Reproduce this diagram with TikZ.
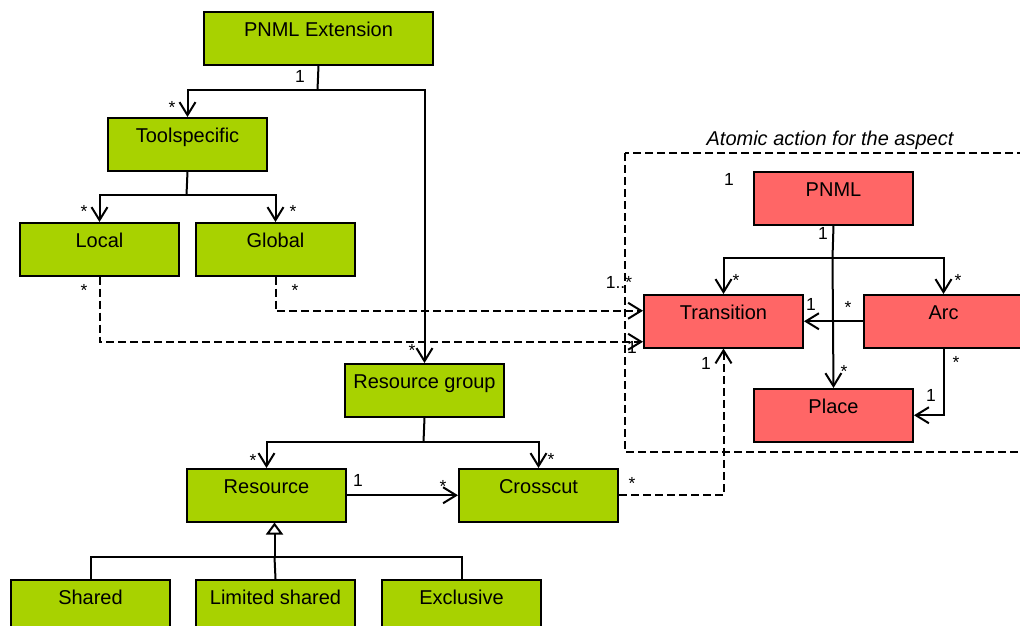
\documentclass[tikz,border=0pt]{standalone}
\usepackage{fontspec}
\setmainfont{Liberation Sans}
\usetikzlibrary{arrows.meta}
\definecolor{umlgreen}{RGB}{168,210,0}
\definecolor{umlred}{RGB}{255,102,102}
\begin{document}
\begin{tikzpicture}[x=1pt,y=-1pt,
  cls/.style={draw=black, line width=2pt, inner sep=0pt, anchor=north west,
    minimum width=159pt, minimum height=52.5pt,
    text height=24.5pt, text depth=28pt,
    font=\fontsize{20}{23}\selectfont},
  gcls/.style={cls, fill=umlgreen},
  rcls/.style={cls, fill=umlred},
  conn/.style={draw=black, line width=2pt},
  arr/.style={conn, -{Straight Barb[length=13pt,width=16pt,line width=2pt]}},
  dsh/.style={dash pattern=on 8pt off 4pt},
  gen/.style={conn, -{Triangle[open,length=12pt,width=17pt,line width=2pt,fill=white]}},
  lab/.style={font=\fontsize{17.5}{20}\selectfont, inner sep=0pt, anchor=base},
]
\useasboundingbox (0,0) rectangle (1020,625);
\clip (0,0) rectangle (1020,625);

% aspect frame and its title
\draw[line width=2pt, dsh] (625,153) rectangle (1060,452);
\node[anchor=base, inner sep=0pt, font=\fontsize{20}{23}\selectfont\itshape] (title) at (830,145) {Atomic action for the aspect};

% classes
\node[gcls, minimum width=229pt] (ext) at (203,11) {PNML Extension};
\node[gcls] (tool) at (107,117) {Toolspecific};
\node[gcls] (local) at (19,222) {Local};
\node[gcls] (global) at (195,222) {Global};
\node[gcls] (rgroup) at (344,363) {Resource group};
\node[gcls] (resource) at (186,468) {Resource};
\node[gcls] (crosscut) at (458,468) {Crosscut};
\node[gcls] (shared) at (10,579) {Shared};
\node[gcls] (limited) at (195,579) {Limited shared};
\node[gcls] (exclusive) at (381,579) {Exclusive};
\node[rcls] (pnml) at (753,171) {PNML};
\node[rcls] (transition) at (643,294) {Transition};
\node[rcls] (arc) at (863,294) {Arc};
\node[rcls] (place) at (753,388) {Place};

% junction points
\coordinate (jext) at (317.5,90);
\coordinate (jtool) at (186.5,195);
\coordinate (jrg) at (423.5,442);
\coordinate (jp) at (832.5,258);
\coordinate (jgen) at (274.5,557);

% compositions
\draw[conn] (ext.south) -- (jext);
\draw[arr] (jext) -| (tool.north);
\draw[arr] (jext) -| (rgroup.north);
\draw[conn] (tool.south) -- (jtool);
\draw[arr] (jtool) -| (local.north);
\draw[arr] (jtool) -| (global.north);
\draw[conn] (rgroup.south) -- (jrg);
\draw[arr] (jrg) -| (resource.north);
\draw[arr] (jrg) -| (crosscut.north);
\draw[arr] (resource.east) -- (crosscut.west);
\draw[conn] (pnml.south) -- (jp);
\draw[arr] (jp) -| (transition.north);
\draw[arr] (jp) -| (arc.north);
\draw[arr] (jp) -- (place.north);
\draw[arr] (arc.west) -- (transition.east);
\draw[arr] (arc.south) |- (place.east);

% dashed references into the aspect
\draw[arr, dsh] (local.south) |- ([yshift=-20.5pt]transition.west);
\draw[arr, dsh] (global.south) |- ([yshift=10.5pt]transition.west);
\draw[arr, dsh] (crosscut.east) -| (transition.south);

% generalisation
\draw[conn] (shared.north) |- (jgen) -| (exclusive.north);
\draw[conn] (limited.north) -- (jgen);
\draw[gen] (jgen) -- (jgen |- resource.south);

% multiplicities
\node[lab] (m1) at (300,82) {1};
\node[lab] (m2) at (172,113) {*};
\node[lab] (m3) at (84,217) {*};
\node[lab] (m4) at (293,217) {*};
\node[lab] (m5) at (84,296) {*};
\node[lab] (m6) at (295,296) {*};
\node[lab] (m7) at (412,356) {*};
\node[lab] (m8) at (729,185) {1};
\node[lab] (m9) at (823,239) {1};
\node[lab] (m10) at (619,288) {1..*};
\node[lab] (m11) at (736,286) {*};
\node[lab] (m12) at (958,286) {*};
\node[lab] (m13) at (811,310) {1};
\node[lab] (m14) at (848,313) {*};
\node[lab] (m15) at (632,353) {1};
\node[lab] (m16) at (706,369) {1};
\node[lab] (m17) at (844,377) {*};
\node[lab] (m18) at (956,368) {*};
\node[lab] (m19) at (931,401) {1};
\node[lab] (m20) at (253,466) {*};
\node[lab] (m21) at (551,465) {*};
\node[lab] (m22) at (358,486) {1};
\node[lab] (m23) at (443,492) {*};
\node[lab] (m24) at (632,489) {*};
\end{tikzpicture}
\end{document}
